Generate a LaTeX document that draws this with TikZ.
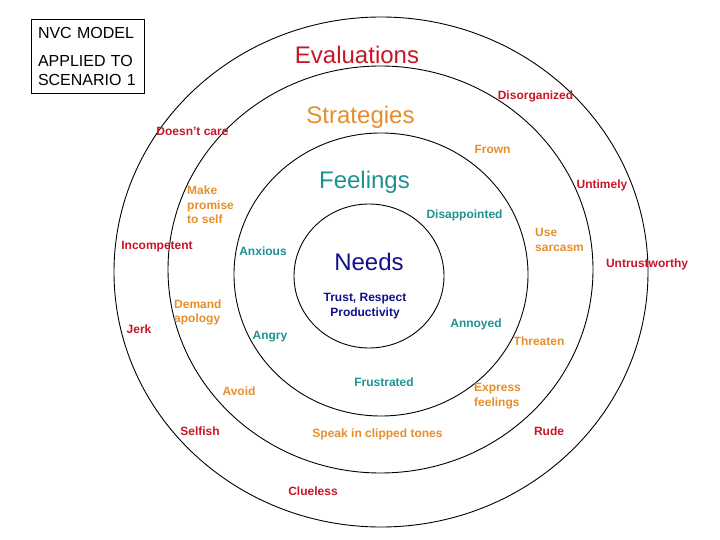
\documentclass[tikz,border=0pt]{standalone}
\usepackage{fontspec}
\setmainfont{Liberation Sans}
\usepackage{xcolor}
\usepackage{tikz}
\definecolor{RedEvaluation}{RGB}{200,22,38}
\definecolor{OrangeStrategy}{RGB}{230,142,44}
\definecolor{TealFeeling}{RGB}{30,146,146}
\definecolor{BlueNeed}{RGB}{16,16,140}
\tikzset{
  ring/.style={line width=0.9pt},
  heading/.style={font=\fontsize{24}{28}\selectfont,inner sep=0pt,text height=17pt,text depth=0pt},
  item/.style={font=\bfseries\fontsize{12}{14.5}\selectfont,inner sep=0pt},
  word/.style={item,text height=8.6pt,text depth=0pt},
  stack/.style={item,align=left,anchor=west}
}

\begin{document}
\begin{tikzpicture}[x=1pt,y=-1pt]
  \useasboundingbox (0,0) rectangle (720,540);
  \coordinate (E) at (381,272);
  \coordinate (S) at (380.5,269.5);
  \coordinate (F) at (381,274.5);
  \coordinate (N) at (369,276);
  \draw[ring] (E) ellipse [x radius=267pt,y radius=255pt];
  \draw[ring] (S) ellipse [x radius=212.5pt,y radius=203.5pt];
  \draw[ring] (F) ellipse [x radius=147pt,y radius=141.5pt];
  \draw[ring] (N) ellipse [x radius=75pt,y radius=72pt];

  \node[draw,line width=0.9pt,minimum width=113pt,minimum height=74pt,inner sep=0pt] (box) at (87.5,56) {};
  \node[font=\fontsize{16}{19}\selectfont,align=left,text width=99pt,inner sep=0pt] (boxtext) at (box.center)
    {NVC MODEL\\[9pt]APPLIED TO\\SCENARIO 1};

  \node[heading,RedEvaluation] (evaluations) at (357,55) {Evaluations};
  \node[heading,OrangeStrategy] (strategies) at (360.5,115) {Strategies};
  \node[heading,TealFeeling] (feelings) at (364.5,180.5) {Feelings};
  \node[heading,BlueNeed] (needs) at (369,262) {Needs};

  \node[word,RedEvaluation] (doesntcare) at (192.5,131) {Doesn't care};
  \node[word,RedEvaluation] (incompetent) at (157,245) {Incompetent};
  \node[word,RedEvaluation] (jerk) at (139,329) {Jerk};
  \node[word,RedEvaluation] (selfish) at (200,431) {Selfish};
  \node[word,RedEvaluation] (clueless) at (313,491) {Clueless};
  \node[word,RedEvaluation] (disorganized) at (535.5,95) {Disorganized};
  \node[word,RedEvaluation] (untimely) at (602,184) {Untimely};
  \node[word,RedEvaluation] (untrustworthy) at (647,263) {Untrustworthy};
  \node[word,RedEvaluation] (rude) at (549,431) {Rude};

  \node[word,OrangeStrategy] (frown) at (492.5,149) {Frown};
  \node[word,OrangeStrategy] (avoid) at (239,391) {Avoid};
  \node[word,OrangeStrategy] (threaten) at (539,341) {Threaten};
  \node[word,OrangeStrategy] (speak) at (377.5,433) {Speak in clipped tones};
  \node[stack,OrangeStrategy] (promise) at (187,205) {Make\\promise\\to self};
  \node[stack,OrangeStrategy] (apology) at (174,312.5) {Demand\\apology};
  \node[stack,OrangeStrategy] (sarcasm) at (535,240) {Use\\sarcasm};
  \node[stack,OrangeStrategy] (express) at (474,396) {Express\\feelings};

  \node[word,TealFeeling] (anxious) at (263,251) {Anxious};
  \node[word,TealFeeling] (disappointed) at (464.5,214) {Disappointed};
  \node[word,TealFeeling] (angry) at (270,335) {Angry};
  \node[word,TealFeeling] (annoyed) at (476,323) {Annoyed};
  \node[word,TealFeeling] (frustrated) at (384,382) {Frustrated};

  \node[item,align=center,BlueNeed] (trust) at (365,306) {Trust, Respect\\Productivity};
\end{tikzpicture}
\end{document}
